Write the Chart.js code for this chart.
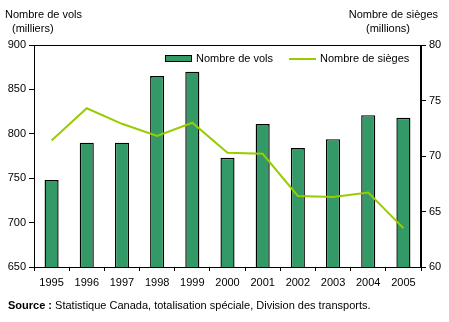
<!DOCTYPE html>
<html>
<head>
<meta charset="utf-8">
<script src="https://cdn.jsdelivr.net/npm/chart.js@4.4.0/dist/chart.umd.min.js"></script>
<style>
  html, body { margin: 0; padding: 0; background: #fff; }
  #wrap { width: 449px; height: 322px; position: relative; }
</style>
</head>
<body>
<div id="wrap"><canvas id="chart" width="449" height="322"></canvas></div>
<script>
const years = ['1995', '1996', '1997', '1998', '1999', '2000', '2001', '2002', '2003', '2004', '2005'];
const flights = [748, 790, 790, 865, 870, 773, 811, 784, 794, 821, 818]; // thousands
const seats = [71.4, 74.3, 72.9, 71.8, 73.0, 70.3, 70.2, 66.4, 66.3, 66.7, 63.5]; // millions
const leftTicks = [650, 700, 750, 800, 850, 900];
const rightTicks = [60, 65, 70, 75, 80];

const barColor = '#339966';
const lineColor = '#99cc00';
const font = 'Liberation Sans, Arial, sans-serif';

// frame around the plot + titles, legend and source drawn on the canvas
const decorations = {
  id: 'decorations',
  afterDraw(chart) {
    const { ctx, chartArea: a } = chart;
    const barSet = chart.data.datasets.find(d => d.type === 'bar');
    const lineSet = chart.data.datasets.find(d => d.type === 'line');
    ctx.save();
    ctx.strokeStyle = '#000';
    ctx.lineWidth = 1;
    ctx.strokeRect(Math.round(a.left) + 0.5, Math.round(a.top) + 0.5,
      Math.round(a.right - a.left) - 1, Math.round(a.bottom - a.top));

    ctx.fillStyle = '#000';
    ctx.font = '11px ' + font;
    ctx.textBaseline = 'middle';
    ctx.textAlign = 'left';
    ctx.fillText('Nombre de vols', 5, 15);
    ctx.fillText('(milliers)', 12, 29);
    ctx.textAlign = 'right';
    ctx.fillText('Nombre de sièges', 438, 15);
    ctx.fillText('(millions)', 410, 29);

    // legend
    ctx.textAlign = 'left';
    const ly = 59;
    ctx.fillStyle = barColor;
    ctx.fillRect(165.5, 55.5, 26, 6);
    ctx.strokeRect(165.5, 55.5, 26, 6);
    ctx.fillStyle = '#000';
    ctx.fillText(barSet.label, 196, ly);
    ctx.strokeStyle = lineColor;
    ctx.lineWidth = 2;
    ctx.beginPath();
    ctx.moveTo(289, ly);
    ctx.lineTo(316, ly);
    ctx.stroke();
    ctx.fillText(lineSet.label, 320, ly);

    // source
    ctx.font = 'bold 11px ' + font;
    ctx.fillText('Source :', 8, 306);
    const w = ctx.measureText('Source : ').width;
    ctx.font = '11px ' + font;
    ctx.fillText('Statistique Canada, totalisation spéciale, Division des transports.', 8 + w, 306);
    ctx.restore();
  },
};

new Chart(document.getElementById('chart'), {
  data: {
    labels: years,
    datasets: [
      {
        type: 'line',
        label: 'Nombre de sièges',
        data: seats,
        yAxisID: 'y1',
        borderColor: lineColor,
        borderWidth: 2,
        pointRadius: 0,
        tension: 0,
        order: 0,
      },
      {
        type: 'bar',
        label: 'Nombre de vols',
        data: flights,
        yAxisID: 'y',
        backgroundColor: barColor,
        borderColor: '#000',
        borderWidth: 1.4,
        borderSkipped: false,
        categoryPercentage: 1,
        barPercentage: 0.4,
        order: 1,
      },
    ],
  },
  options: {
    responsive: false,
    animation: false,
    devicePixelRatio: 1,
    layout: { padding: { top: 45, bottom: 25, left: 0, right: 0 } },
    plugins: { legend: { display: false }, tooltip: { enabled: false } },
    scales: {
      x: {
        offset: true,
        grid: { offset: true, drawOnChartArea: false, tickLength: 4, color: '#000', tickColor: '#000' },
        border: { color: '#000' },
        ticks: { color: '#000', font: { family: font, size: 11 }, padding: 5, maxRotation: 0 },
        afterFit(scale) { scale.height = 30; },
      },
      y: {
        position: 'left',
        min: 650,
        max: 900,
        afterBuildTicks(scale) { scale.ticks = leftTicks.map(v => ({ value: v })); },
        grid: { drawOnChartArea: false, tickLength: 5, color: '#000', tickColor: '#000' },
        border: { color: '#000' },
        ticks: { color: '#000', font: { family: font, size: 11 }, padding: 3 },
        afterFit(scale) { scale.width = 34; },
      },
      y1: {
        position: 'right',
        min: 60,
        max: 80,
        afterBuildTicks(scale) { scale.ticks = rightTicks.map(v => ({ value: v })); },
        grid: { drawOnChartArea: false, tickLength: 5, color: '#000', tickColor: '#000' },
        border: { color: '#000' },
        ticks: { color: '#000', font: { family: font, size: 11 }, padding: 3 },
        afterFit(scale) { scale.width = 28; },
      },
    },
  },
  plugins: [decorations],
});
</script>
</body>
</html>
